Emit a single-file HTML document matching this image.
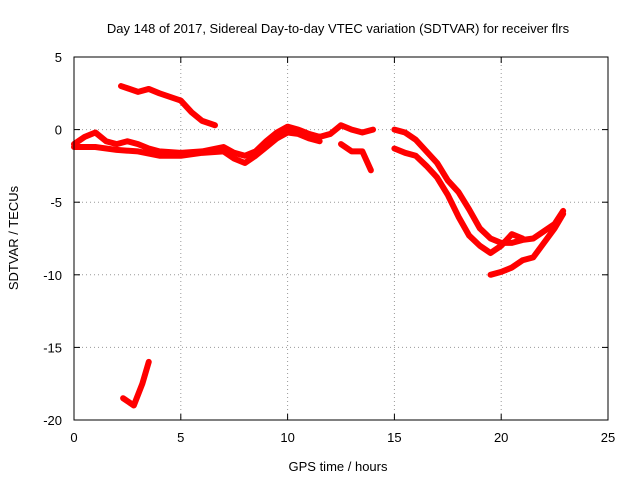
<!DOCTYPE html>
<html><head><meta charset="utf-8"><style>
body{margin:0;background:#fff}
svg text{font-family:"Liberation Sans",sans-serif;font-size:13px;fill:#000}
</style></head><body>
<svg id="chart" width="640" height="480" xmlns="http://www.w3.org/2000/svg">
<text x="338" y="33" text-anchor="middle">Day 148 of 2017, Sidereal Day-to-day VTEC variation (SDTVAR) for receiver flrs</text>
<text x="338" y="471" text-anchor="middle">GPS time / hours</text>
<text transform="translate(18,238) rotate(-90)" text-anchor="middle">SDTVAR / TECUs</text>
<g id="grid"></g><g id="ticks"></g><g id="marks"></g>
<rect x="74" y="57" width="534" height="363" fill="none" stroke="#000"/>
</svg>
<script>
const xTicks=[0,5,10,15,20,25];
const yTicks=[5,0,-5,-10,-15,-20];
const trackA=[[0,-1],[0.5,-0.5],[1,-0.2],[1.5,-0.8],[2,-1],[2.5,-0.8],[3,-1],[3.5,-1.3],[4,-1.5],[5,-1.6],[6,-1.5],[7,-1.2],[7.5,-1.6],[8,-1.8],[8.5,-1.5],[9,-0.8],[9.5,-0.2],[10,0.2],[10.5,0],[11,-0.3],[11.5,-0.5],[12,-0.3],[12.5,0.3],[13,0],[13.5,-0.2],[14,0]];
const trackB=[[0,-1.2],[1,-1.2],[2,-1.4],[3,-1.5],[4,-1.8],[5,-1.8],[6,-1.6],[7,-1.5],[7.5,-2],[8,-2.3],[8.5,-1.8],[9,-1.2],[9.5,-0.6],[10,-0.2],[10.5,-0.3],[11,-0.6],[11.5,-0.8]];
const trackC=[[2.2,3],[3,2.6],[3.5,2.8],[4,2.5],[5,2],[5.5,1.2],[6,0.6],[6.6,0.3]];
const trackD=[[15,0],[15.5,-0.2],[16,-0.7],[16.5,-1.5],[17,-2.3],[17.5,-3.5],[18,-4.3],[18.5,-5.5],[19,-6.8],[19.5,-7.5],[20,-7.8],[20.5,-7.8],[21,-7.6],[21.5,-7.5],[22,-7],[22.5,-6.5],[22.9,-5.6]];
const trackE=[[15,-1.3],[15.5,-1.6],[16,-1.8],[16.5,-2.5],[17,-3.3],[17.5,-4.5],[18,-6],[18.5,-7.3],[19,-8],[19.5,-8.5],[20,-8],[20.5,-7.2],[21,-7.5]];
const trackF=[[19.5,-10],[20,-9.8],[20.5,-9.5],[21,-9],[21.5,-8.8],[22,-7.8],[22.5,-6.8],[22.9,-5.8]];
const trackG=[[12.5,-1],[13,-1.5],[13.5,-1.5],[13.9,-2.8]];
const trackH=[[2.3,-18.5],[2.8,-19],[3.2,-17.5],[3.5,-16]];
const tracks=[trackA,trackB,trackC,trackD,trackE,trackF,trackG,trackH];
const X=v=>74+v*534/25, Y=v=>57+(5-v)*363/25;
const NS="http://www.w3.org/2000/svg";
const grid=document.getElementById('grid'),ticks=document.getElementById('ticks'),marks=document.getElementById('marks');
function mk(tag,attrs,parent){const e=document.createElementNS(NS,tag);for(const k in attrs)e.setAttribute(k,attrs[k]);parent.appendChild(e);return e;}
xTicks.forEach(t=>{
 if(t>0&&t<25){const g=mk('line',{x1:X(t),x2:X(t),y1:57,y2:420,stroke:'#999','stroke-dasharray':'1,3'},grid);
 
 }
 const l=mk('text',{x:X(t),y:442,'text-anchor':'middle'},ticks);l.textContent=t;
 
 
 mk('line',{x1:X(t),x2:X(t),y1:420,y2:414,stroke:'#000'},ticks);
 mk('line',{x1:X(t),x2:X(t),y1:57,y2:63,stroke:'#000'},ticks);
});
yTicks.forEach(t=>{
 if(t<5&&t>-20){const g=mk('line',{x1:74,x2:608,y1:Y(t),y2:Y(t),stroke:'#999','stroke-dasharray':'1,3'},grid);
 
 }
 const l=mk('text',{x:62,y:Y(t)+5,'text-anchor':'end'},ticks);l.textContent=t;
 
 
 mk('line',{x1:74,x2:80,y1:Y(t),y2:Y(t),stroke:'#000'},ticks);
 mk('line',{x1:608,x2:602,y1:Y(t),y2:Y(t),stroke:'#000'},ticks);
});
tracks.forEach((tr,i)=>{
 const p=mk('polyline',{points:tr.map(d=>X(d[0])+','+Y(d[1])).join(' '),fill:'none',stroke:'#f00','stroke-width':6,'stroke-linejoin':'round','stroke-linecap':'round'},marks);
 
 
});
</script>
</body></html>
